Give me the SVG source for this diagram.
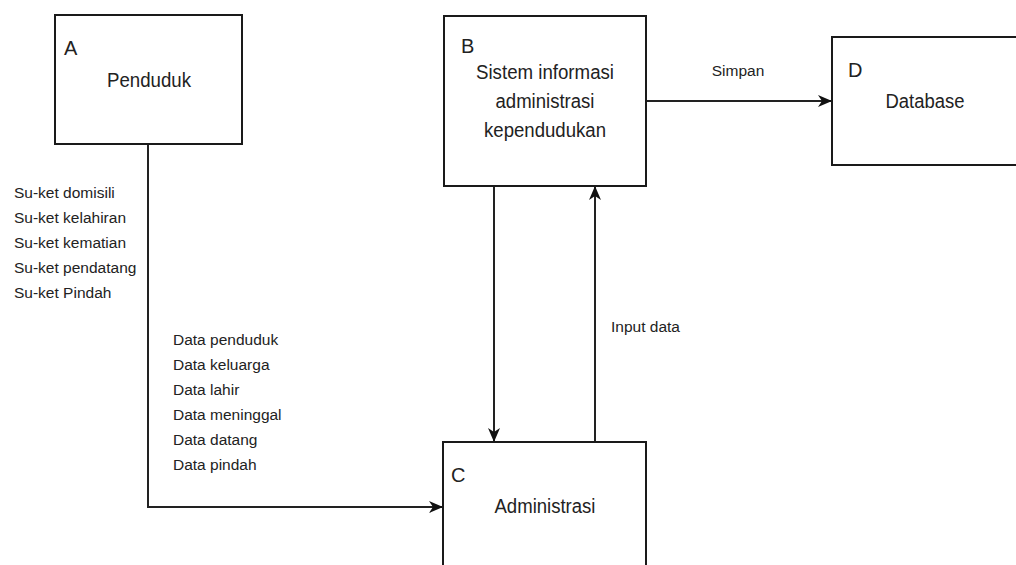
<svg xmlns="http://www.w3.org/2000/svg" width="1016" height="565" viewBox="0 0 1016 565">
  <style>
    .box { fill: #ffffff; stroke: #1a1a1a; stroke-width: 2; }
    .lbl { font-family: "Liberation Sans", Arial, sans-serif; font-size: 20px; fill: #222; }
    .big { font-family: "Liberation Sans", Arial, sans-serif; font-size: 20px; fill: #222; text-anchor: middle; }
    .sm { font-family: "Liberation Sans", Arial, sans-serif; font-size: 15.5px; fill: #222; }
    .conn { fill: none; stroke: #222; stroke-width: 2; }
  </style>
  <defs>
    <marker id="arr" markerUnits="userSpaceOnUse" markerWidth="14" markerHeight="12" refX="13" refY="6" orient="auto">
      <path d="M0,0 L14,6 L0,12 L4,6 Z" fill="#111"/>
    </marker>
  </defs>
  <rect width="1016" height="565" fill="#ffffff"/>

  <g id="connectors">
    <path class="conn" d="M148,144 V507 H442" marker-end="url(#arr)"/>
    <path class="conn" d="M494,186 V441" marker-end="url(#arr)"/>
    <path class="conn" d="M595,442 V187" marker-end="url(#arr)"/>
    <path class="conn" d="M646,101 H831" marker-end="url(#arr)"/>
    <text class="sm" x="738" y="76" text-anchor="middle">Simpan</text>
    <text class="sm" x="611" y="332">Input data</text>
    <g id="label-suket">
      <text class="sm" x="14" y="198">Su-ket domisili</text>
      <text class="sm" x="14" y="223">Su-ket kelahiran</text>
      <text class="sm" x="14" y="248">Su-ket kematian</text>
      <text class="sm" x="14" y="273">Su-ket pendatang</text>
      <text class="sm" x="14" y="298">Su-ket Pindah</text>
    </g>
    <g id="label-data">
      <text class="sm" x="173" y="345">Data penduduk</text>
      <text class="sm" x="173" y="370">Data keluarga</text>
      <text class="sm" x="173" y="395">Data lahir</text>
      <text class="sm" x="173" y="420">Data meninggal</text>
      <text class="sm" x="173" y="445">Data datang</text>
      <text class="sm" x="173" y="470">Data pindah</text>
    </g>
  </g>

  <g id="node-A">
    <rect class="box" x="55" y="15" width="187" height="129"/>
    <text class="lbl" x="64" y="55">A</text>
    <text class="big" x="149" y="87" textLength="84" lengthAdjust="spacingAndGlyphs">Penduduk</text>
  </g>

  <g id="node-B">
    <rect class="box" x="444" y="16" width="202" height="170"/>
    <text class="lbl" x="461" y="53">B</text>
    <text class="big" x="545" y="79" textLength="138" lengthAdjust="spacingAndGlyphs">Sistem informasi</text>
    <text class="big" x="545" y="108" textLength="99" lengthAdjust="spacingAndGlyphs">administrasi</text>
    <text class="big" x="545" y="137" textLength="122" lengthAdjust="spacingAndGlyphs">kependudukan</text>
  </g>

  <g id="node-C">
    <rect class="box" x="443" y="442" width="203" height="140"/>
    <text class="lbl" x="451" y="482">C</text>
    <text class="big" x="545" y="513" textLength="101" lengthAdjust="spacingAndGlyphs">Administrasi</text>
  </g>

  <g id="node-D">
    <rect class="box" x="832" y="37" width="200" height="128"/>
    <text class="lbl" x="848" y="77">D</text>
    <text class="big" x="925" y="108" textLength="79" lengthAdjust="spacingAndGlyphs">Database</text>
  </g>
</svg>
